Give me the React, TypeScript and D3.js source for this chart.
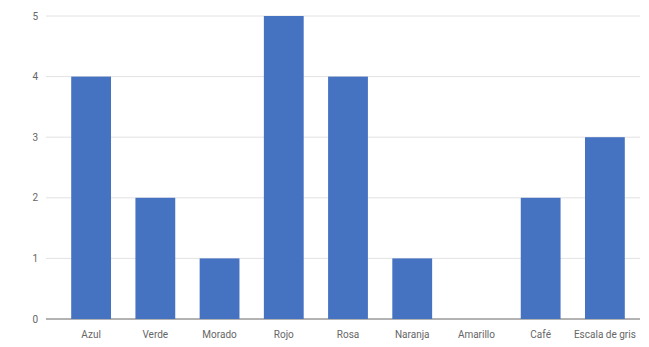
import React from "react";
import * as d3 from "d3";

const categories = ["Azul", "Verde", "Morado", "Rojo", "Rosa", "Naranja", "Amarillo", "Café", "Escala de gris"];
const values = [4, 2, 1, 5, 4, 1, 0, 2, 3];
const yTicks = [0, 1, 2, 3, 4, 5];

export default function App() {
  const W = 649, H = 347;
  const x = d3.scaleBand<string>().domain(categories).range([59, 637]).paddingInner(0.38).paddingOuter(0.19);
  const y = d3.scaleLinear().domain([0, 5]).range([319, 16]);
  return (
    <svg width={W} height={H} style={{ position: "absolute", left: 0, top: 0, background: "#fff" }}>
      {yTicks.map((t) => (
        <g key={t}>
          <line x1={46} x2={640} y1={y(t)} y2={y(t)} stroke={t === 0 ? "#666" : "#e2e2e2"} strokeWidth={1} />
          <text x={38} y={y(t)} dy="0.35em" textAnchor="end" fontFamily="Roboto, Arial, sans-serif" fontSize={10} fill="#666">{t}</text>
        </g>
      ))}
      {categories.map((c, i) => (
        <rect key={c} x={x(c)} width={x.bandwidth()} y={y(values[i])} height={y(0) - y(values[i])} fill="#4672c2" />
      ))}
      {categories.map((c) => (
        <text key={c} x={(x(c) as number) + x.bandwidth() / 2} y={338} textAnchor="middle" fontFamily="Roboto, Arial, sans-serif" fontSize={10} fill="#666">{c}</text>
      ))}
    </svg>
  );
}
